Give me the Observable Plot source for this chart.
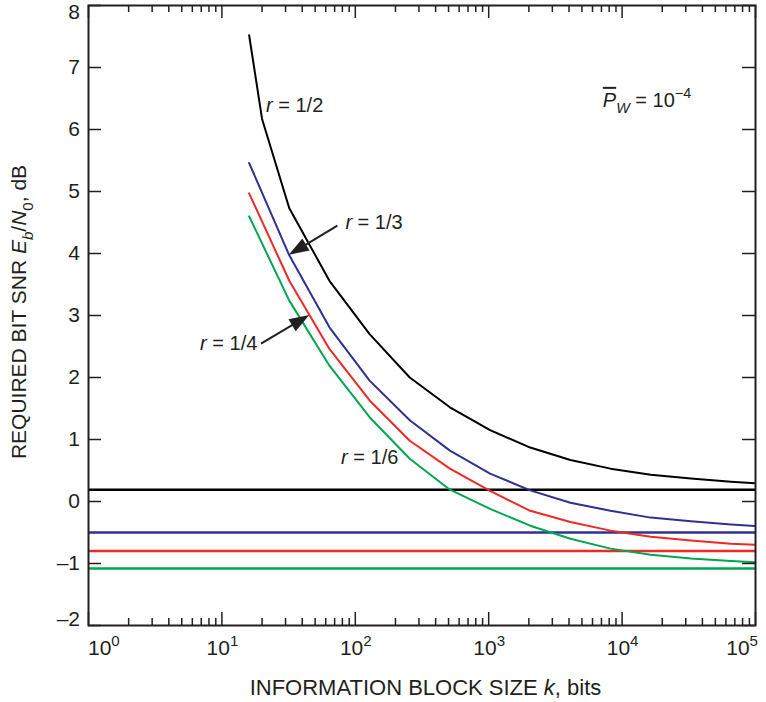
<!DOCTYPE html>
<html>
<head>
<meta charset="utf-8">
<script src="https://cdn.jsdelivr.net/npm/d3@7"></script>
<script src="https://cdn.jsdelivr.net/npm/@observablehq/plot@0.6"></script>
<style>
  html, body { margin: 0; padding: 0; background: #ffffff; }
  #chart svg { display: block; }
</style>
</head>
<body>
<div id="chart"></div>
<script>
// Information block sizes k (bits) at which the required Eb/N0 was evaluated
const blockSizes = [16, 32, 64, 128, 256, 512, 1024, 2048, 4096, 8192, 16384, 32768, 65536, 131072];
const blockSizesHalf = [16, 20, 32, 64, 128, 256, 512, 1024, 2048, 4096, 8192, 16384, 32768, 65536, 131072];

// Required bit SNR Eb/N0 (dB) for word error rate 1e-4, per code rate
const snrHalf    = [7.52, 6.17, 4.73, 3.56, 2.70, 2.00, 1.52, 1.15, 0.87, 0.67, 0.53, 0.43, 0.37, 0.32, 0.28];
const snrThird   = [5.46, 3.97, 2.81, 1.95, 1.31, 0.82, 0.45, 0.18, -0.02, -0.15, -0.26, -0.32, -0.37, -0.41];
const snrQuarter = [4.97, 3.56, 2.46, 1.63, 0.98, 0.53, 0.17, -0.15, -0.33, -0.47, -0.57, -0.63, -0.68, -0.71];
const snrSixth   = [4.60, 3.24, 2.19, 1.36, 0.69, 0.19, -0.12, -0.39, -0.60, -0.76, -0.86, -0.92, -0.96, -0.99];

// Capacity limits (k -> infinity) for each rate, dB
const rates = ["1/2", "1/3", "1/4", "1/6"];
const capacityLimits = [0.19, -0.50, -0.80, -1.08];
const rateColors = ["#000000", "#2e3192", "#ee2a24", "#00a651"];

// Axis ticks
const yTicks = [-2, -1, 0, 1, 2, 3, 4, 5, 6, 7, 8];
const xDecades = [0, 1, 2, 3, 4, 5];

// Annotation texts and their anchors (data units: k, dB)
const rateLabelText = ["1/2", "1/3", "1/4", "1/6"];
const rateLabelAt = [[21.6, 6.39, "start"], [85, 4.50, "start"], [18.6, 2.55, "end"], [78.9, 0.715, "start"]];
const arrowTails = [[74, 4.44], [19.8, 2.54]];
const arrowTips  = [[blockSizes[1], snrThird[1]], [45.6, 3.0]];
const errorRateAt = [7230, 6.47];

const FONT = "'Liberation Sans', Arial, Helvetica, sans-serif";
const INK = "#231f20";
const W = 766, H = 702;
const M = {top: 5, right: 11, bottom: 77, left: 88};
const frameW = W - M.left - M.right, frameH = H - M.top - M.bottom;

const xMajor = xDecades.map(e => 10 ** e);
const xMinor = xDecades.slice(0, -1).flatMap(e => d3.range(2, 10).map(m => m * 10 ** e));

const rows = [
  ...blockSizesHalf.map((k, i) => ({rate: rates[0], k, snr: snrHalf[i]})),
  ...blockSizes.map((k, i) => ({rate: rates[1], k, snr: snrThird[i]})),
  ...blockSizes.map((k, i) => ({rate: rates[2], k, snr: snrQuarter[i]})),
  ...blockSizes.map((k, i) => ({rate: rates[3], k, snr: snrSixth[i]}))
];
const limitRows = rates.map((rate, i) => ({rate, limit: capacityLimits[i]}));

// Writes a run of styled pieces (italic, sub/superscript, overline) into one <text>
function richText(parent, segs, fs) {
  const text = parent.append("text")
    .attr("font-size", fs).attr("font-family", FONT).attr("fill", INK).attr("text-anchor", "start");
  let shift = 0;
  for (const [str, kind = ""] of segs) {
    const ts = text.append("tspan").text(str);
    let target = 0, size = fs;
    if (kind.includes("sub")) { target = 0.32 * fs; size = 0.72 * fs; }
    if (kind.includes("sup")) { target = -0.42 * fs; size = 0.72 * fs; }
    if (target !== shift) ts.attr("dy", target - shift);
    shift = target;
    if (size !== fs) ts.attr("font-size", size);
    if (kind.includes("i")) ts.attr("font-style", "italic");
    if (kind.includes("bar")) ts.attr("text-decoration", "overline");
  }
  return text;
}

// Rate labels, the error-rate note and the two pointer arrows
function annotations(index, {x, y}) {
  const g = d3.create("svg:g");
  const fs = 20;
  rateLabelText.forEach((t, i) => {
    const [kx, dbv, anchor] = rateLabelAt[i];
    richText(g, [["r", "i"], [" = " + t]], fs)
      .attr("text-anchor", anchor)
      .attr("x", x(kx)).attr("y", y(dbv) + 0.35 * fs);
  });
  richText(g, [["P", "ibar"], ["W", "isub"], [" = 10"], ["\u22124", "sup"]], fs)
    .attr("x", x(errorRateAt[0])).attr("y", y(errorRateAt[1]) + 0.35 * fs);

  arrowTails.forEach((tail, i) => {
    const x1 = x(tail[0]), y1 = y(tail[1]);
    const x2 = x(arrowTips[i][0]), y2 = y(arrowTips[i][1]);
    const len = Math.hypot(x2 - x1, y2 - y1), ux = (x2 - x1) / len, uy = (y2 - y1) / len;
    const hl = 20, hw = 7;
    const bx = x2 - ux * hl, by = y2 - uy * hl;
    g.append("line").attr("x1", x1).attr("y1", y1).attr("x2", bx + ux * 2).attr("y2", by + uy * 2)
      .attr("stroke", INK).attr("stroke-width", 2);
    g.append("path")
      .attr("d", `M${x2},${y2}L${bx - uy * hw},${by + ux * hw}L${bx + uy * hw},${by - ux * hw}Z`)
      .attr("fill", INK);
  });
  return g.node();
}

// Tick labels (10^n decades, dB values) and both axis titles
function axisText(index, {x, y}, values, dims) {
  const g = d3.create("svg:g");
  const left = dims.marginLeft, right = dims.width - dims.marginRight;
  const top = dims.marginTop, bottom = dims.height - dims.marginBottom;
  const tfs = 21;
  xMajor.forEach((v, i) => {
    const t = richText(g, [["10"], [String(xDecades[i]), "sup"]], tfs).attr("y", bottom + 30);
    if (i === 0) t.attr("x", left).attr("text-anchor", "start");
    else if (i === xMajor.length - 1) t.attr("x", right + 3).attr("text-anchor", "end");
    else t.attr("x", x(v) + 1).attr("text-anchor", "middle");
  });
  yTicks.forEach(v => {
    const cy = Math.max(top + 7, Math.min(bottom - 6, y(v)));
    richText(g, [[v < 0 ? "\u2013" + Math.abs(v) : String(v)]], tfs)
      .attr("text-anchor", "end").attr("x", left - 8).attr("y", cy + 0.35 * tfs);
  });
  richText(g, [["INFORMATION BLOCK SIZE "], ["k", "i"], [", bits"]], 22)
    .attr("x", (left + right) / 2 + 4).attr("y", bottom + 70).attr("text-anchor", "middle");
  const cy = (top + bottom) / 2 - 3;
  richText(g, [["REQUIRED BIT SNR "], ["E", "i"], ["b", "isub"], ["/"], ["N", "i"], ["0", "sub"], [", dB"]], 21)
    .attr("text-anchor", "middle")
    .attr("transform", `translate(26,${cy}) rotate(-90)`);
  return g.node();
}

const tickStyle = {stroke: INK, strokeWidth: 1.5};

const chart = Plot.plot({
  width: W,
  height: H,
  marginTop: M.top,
  marginRight: M.right,
  marginBottom: M.bottom,
  marginLeft: M.left,
  style: {fontFamily: FONT, color: INK, background: "#ffffff"},
  x: {type: "log", domain: [1, 1e5], axis: null},
  y: {domain: [-2, 8], axis: null},
  color: {domain: rates, range: rateColors},
  marks: [
    Plot.ruleY(limitRows, {y: "limit", stroke: "rate", strokeWidth: 2.5}),
    Plot.line(rows, {x: "k", y: "snr", z: "rate", stroke: "rate", strokeWidth: 2, clip: true}),
    // inward ticks on all four sides of the frame
    Plot.tickX(xMajor, {x: d => d, insetTop: frameH - 13, ...tickStyle}),
    Plot.tickX(xMinor, {x: d => d, insetTop: frameH - 7, ...tickStyle}),
    Plot.tickX(xMajor, {x: d => d, insetBottom: frameH - 13, ...tickStyle}),
    Plot.tickX(xMinor, {x: d => d, insetBottom: frameH - 7, ...tickStyle}),
    Plot.tickY(yTicks, {y: d => d, insetRight: frameW - 13, ...tickStyle}),
    Plot.tickY(yTicks, {y: d => d, insetLeft: frameW - 13, ...tickStyle}),
    Plot.frame({stroke: INK, strokeWidth: 2}),
    annotations,
    axisText
  ]
});
document.getElementById("chart").appendChild(chart);
</script>
</body>
</html>
